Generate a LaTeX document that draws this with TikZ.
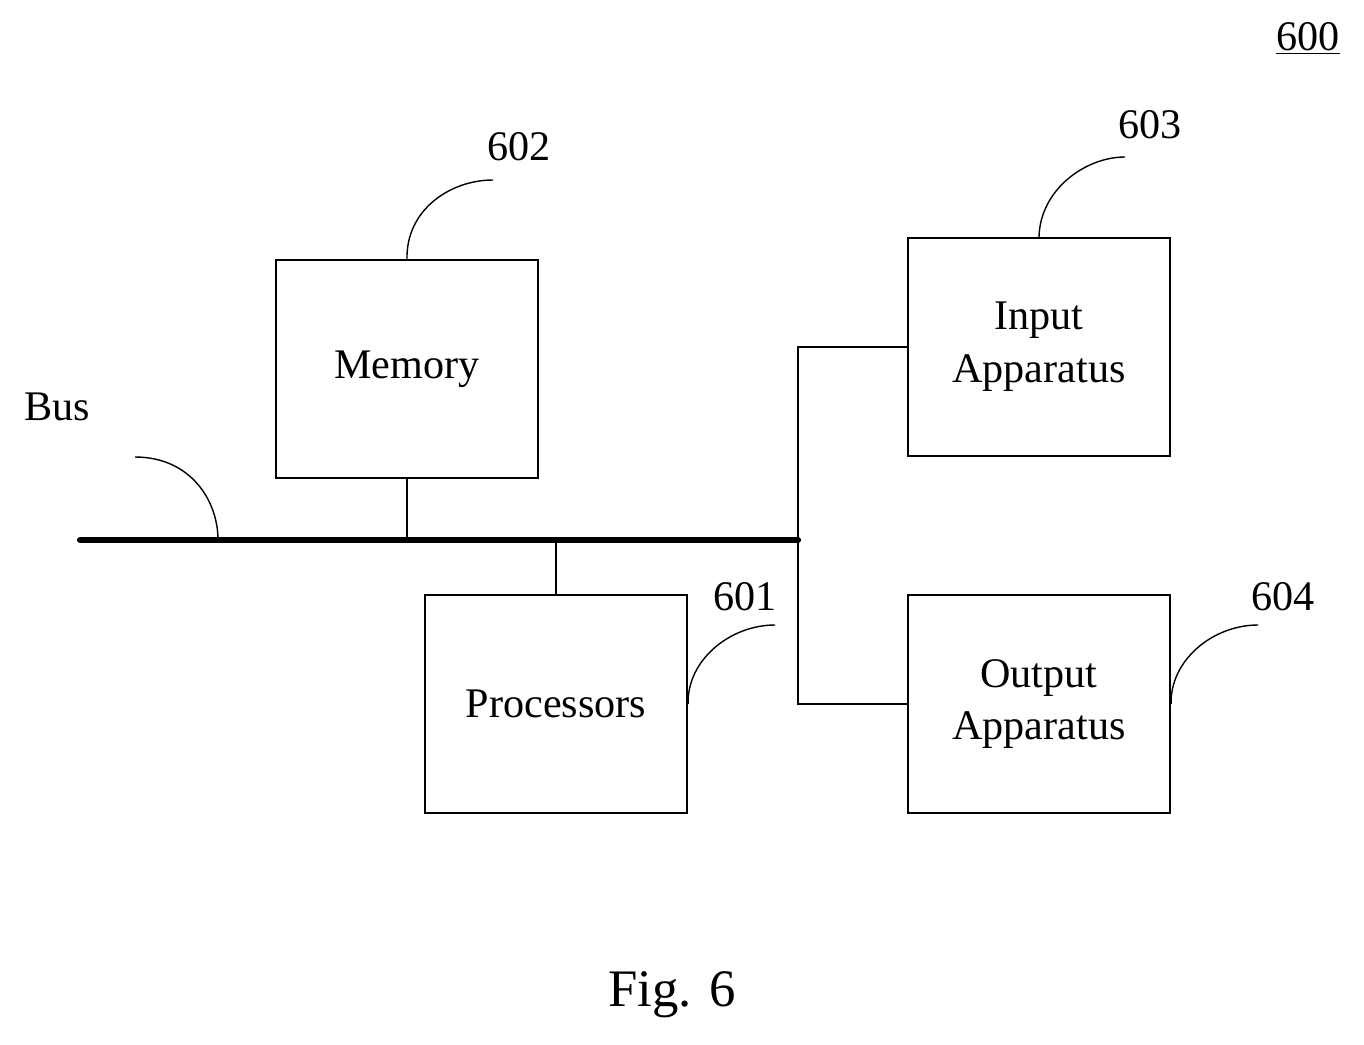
\documentclass[tikz,border=0pt]{standalone}
\usepackage{fontspec}
\setmainfont{Liberation Serif}
\begin{document}
\begin{tikzpicture}[x=0.02cm,y=-0.02cm,
  box/.style={draw,line width=1.2pt,minimum width=262*0.02cm,minimum height=218*0.02cm,align=center,font=\fontsize{24}{30}\selectfont},
  lbl/.style={font=\fontsize{24}{28}\selectfont},
  wire/.style={line width=0.8pt}]
\useasboundingbox (0,0) rectangle (1364,1044);
\node[box] (mem) at (407,369) {Memory};
\node[box] (proc) at (556,704) {Processors};
\node[box] (inp) at (1039,347) {Input\\Apparatus};
\node[box] (outp) at (1039,704) {Output\\Apparatus};
\coordinate (busl) at (80,540);
\coordinate (busr) at (798,540);
\draw[line width=3.5pt,line cap=round] (busl) -- (busr);
\draw[wire] (mem.south) -- (mem.south |- busl);
\draw[wire] (proc.north) -- (proc.north |- busl);
\draw[wire] (inp.west) -| (busr) |- (outp.west);
% labels
\node[lbl] (l602) at (519,147) {602};
\node[lbl] (l603) at (1150,125) {603};
\node[lbl] (l601) at (745,597) {601};
\node[lbl] (l604) at (1283,597) {604};
\node[lbl] (lbus) at (57,407) {Bus};
\node[lbl] (l600) at (1308,38) {\underline{600}};
\node[font=\fontsize{30}{36}\selectfont] (fig) at (672,995) {Fig. 6};
\coordinate (e602) at (493,180);
\coordinate (e603) at (1125,157);
\coordinate (e601) at (775,625);
\coordinate (e604) at (1258,625);
\coordinate (ebus) at (135,457);
\draw[wire] (mem.north) .. controls (406,210) and (450,180) .. (e602);
\draw[wire] (inp.north) .. controls (1040,190) and (1085,157) .. (e603);
\draw[wire] (proc.east) .. controls (687,660) and (730,625) .. (e601);
\draw[wire] (outp.east) .. controls (1170,660) and (1213,625) .. (e604);
\draw[wire] (ebus) .. controls (190,457) and (218,500) .. (218,540);
\end{tikzpicture}
\end{document}
